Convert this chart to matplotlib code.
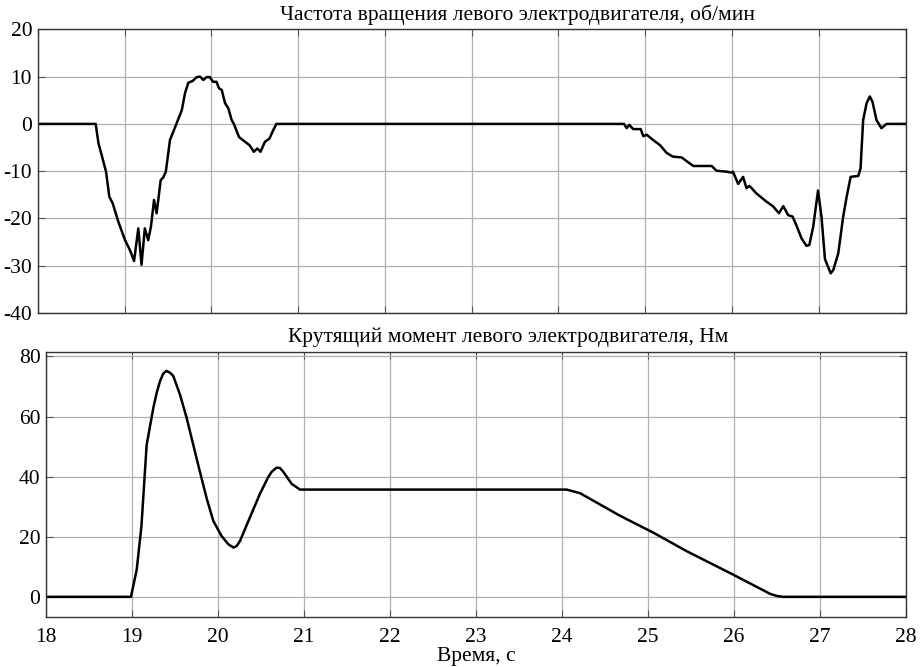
import matplotlib
matplotlib.use("Agg")
import matplotlib.pyplot as plt

plt.rcParams['font.family'] = ['Liberation Serif', 'DejaVu Serif']
plt.rcParams['axes.unicode_minus'] = False

# Rotation speed of left motor, rpm
speed_t = [18.0, 18.668, 18.70, 18.737, 18.787, 18.825, 18.864, 18.929, 19.006, 19.063,
           19.11, 19.159, 19.196, 19.234, 19.273, 19.305, 19.34, 19.37, 19.417, 19.447,
           19.476, 19.524, 19.60, 19.66, 19.697, 19.735, 19.786, 19.832, 19.87, 19.908,
           19.947, 19.983, 20.02, 20.06, 20.09, 20.12, 20.158, 20.196, 20.235, 20.26,
           20.32, 20.39, 20.44, 20.49, 20.53, 20.567, 20.617, 20.67, 20.714, 20.75,
           24.755, 24.786, 24.816, 24.86, 24.947, 24.977, 25.016, 25.09, 25.17, 25.244,
           25.315, 25.419, 25.553, 25.765, 25.82, 25.936, 25.993, 26.01, 26.07, 26.127,
           26.166, 26.2, 26.28, 26.4, 26.47, 26.54, 26.59, 26.646, 26.697, 26.74,
           26.8, 26.857, 26.89, 26.935, 26.99, 27.03, 27.07, 27.136, 27.166, 27.223,
           27.28, 27.32, 27.366, 27.454, 27.48, 27.51, 27.55, 27.587, 27.617, 27.664,
           27.72, 27.78, 28.0]
speed_v = [0, 0, -4.1, -6.6, -10.1, -15.4, -16.8, -20.7, -24.6, -26.7,
           -29.0, -22.1, -29.8, -22.1, -24.6, -21.7, -16.1, -18.9, -11.9, -11.3,
           -10.1, -3.4, 0.1, 2.9, 6.5, 8.7, 9.1, 9.9, 10.0, 9.3,
           9.9, 9.9, 8.9, 8.9, 7.5, 7.2, 4.4, 3.3, 0.8, 0.0,
           -2.8, -3.8, -4.5, -5.9, -5.2, -5.9, -3.8, -3.1, -1.3, 0,
           0, -0.9, -0.2, -1.1, -1.1, -2.6, -2.3, -3.4, -4.5, -6.1,
           -6.9, -7.1, -8.9, -8.9, -9.9, -10.1, -10.3, -10.1, -12.7, -11.2,
           -13.6, -13.1, -14.7, -16.5, -17.4, -18.9, -17.4, -19.3, -19.6, -21.4,
           -24.2, -25.8, -25.6, -21.7, -14.1, -19.6, -28.6, -31.6, -30.9, -27.4,
           -19.6, -15.4, -11.2, -11.0, -9.4, 0.8, 4.4, 5.8, 4.7, 0.8,
           -0.9, 0, 0]

# Torque of left motor, Nm
torque_t = [18.0, 18.988, 19.055, 19.11, 19.17, 19.248, 19.287, 19.326, 19.364, 19.40,
            19.442, 19.48, 19.558, 19.636, 19.713, 19.79, 19.87, 19.945, 20.04, 20.12,
            20.18, 20.217, 20.256, 20.372, 20.488, 20.585, 20.624, 20.68, 20.72, 20.76,
            20.857, 20.953, 24.055, 24.21, 24.674, 25.06, 25.45, 25.99, 26.42, 26.497,
            26.57, 28.0]
torque_v = [0, 0, 9.1, 23.6, 50.5, 62.9, 67.9, 71.8, 74.3, 75.2,
            74.6, 73.5, 67.3, 59.5, 50.5, 41.6, 32.6, 25.3, 20.3, 17.5,
            16.4, 16.9, 18.6, 26.5, 34.3, 39.9, 41.6, 43.0, 42.9, 41.6,
            37.6, 35.7, 35.7, 34.5, 27.0, 21.4, 15.2, 7.4, 1.0, 0.3,
            0, 0]

x_ticks = [18, 19, 20, 21, 22, 23, 24, 25, 26, 27, 28]
speed_ticks = [-40, -30, -20, -10, 0, 10, 20]
torque_ticks = [0, 20, 40, 60, 80]

title_top = "Частота вращения левого электродвигателя, об/мин"
title_bottom = "Крутящий момент левого электродвигателя, Нм"
xlabel = "Время, с"

fig = plt.figure(figsize=(9.22, 6.67), dpi=100)
ax1 = fig.add_axes([0.0409, 0.5307, 0.9414, 0.4253])
ax2 = fig.add_axes([0.0499, 0.075, 0.9327, 0.3973])

FS = 15.5

def style(ax):
    ax.grid(True, color='#b0b0b0', linewidth=0.9)
    ax.set_axisbelow(True)
    ax.tick_params(direction='in', top=True, right=True, length=5, width=0.8,
                   color='#555555', labelsize=FS, pad=4)
    for s in ax.spines.values():
        s.set_color('#333333')
        s.set_linewidth(1.0)
    ax.set_xlim(18, 28)
    ax.set_xticks(x_ticks)

ax1.plot(speed_t, speed_v, color='black', linewidth=1.8)
style(ax1)
ax1.set_ylim(-40, 20)
ax1.set_yticks(speed_ticks)
ax1.set_xticklabels([])
ax1.text(0.553, 1.015, title_top, transform=ax1.transAxes, ha='center', va='bottom',
         fontsize=FS)

ax2.plot(torque_t, torque_v, color='black', linewidth=1.8)
style(ax2)
ax2.set_ylim(-6.7, 81.5)
ax2.set_yticks(torque_ticks)
ax2.set_xticklabels([str(v) for v in x_ticks])
ax2.tick_params(axis='x', pad=8)
ax2.text(0.538, 1.02, title_bottom, transform=ax2.transAxes, ha='center', va='bottom',
         fontsize=FS)
ax2.set_xlabel(xlabel, fontsize=FS, labelpad=0)

fig.savefig("out.png", dpi=100)
